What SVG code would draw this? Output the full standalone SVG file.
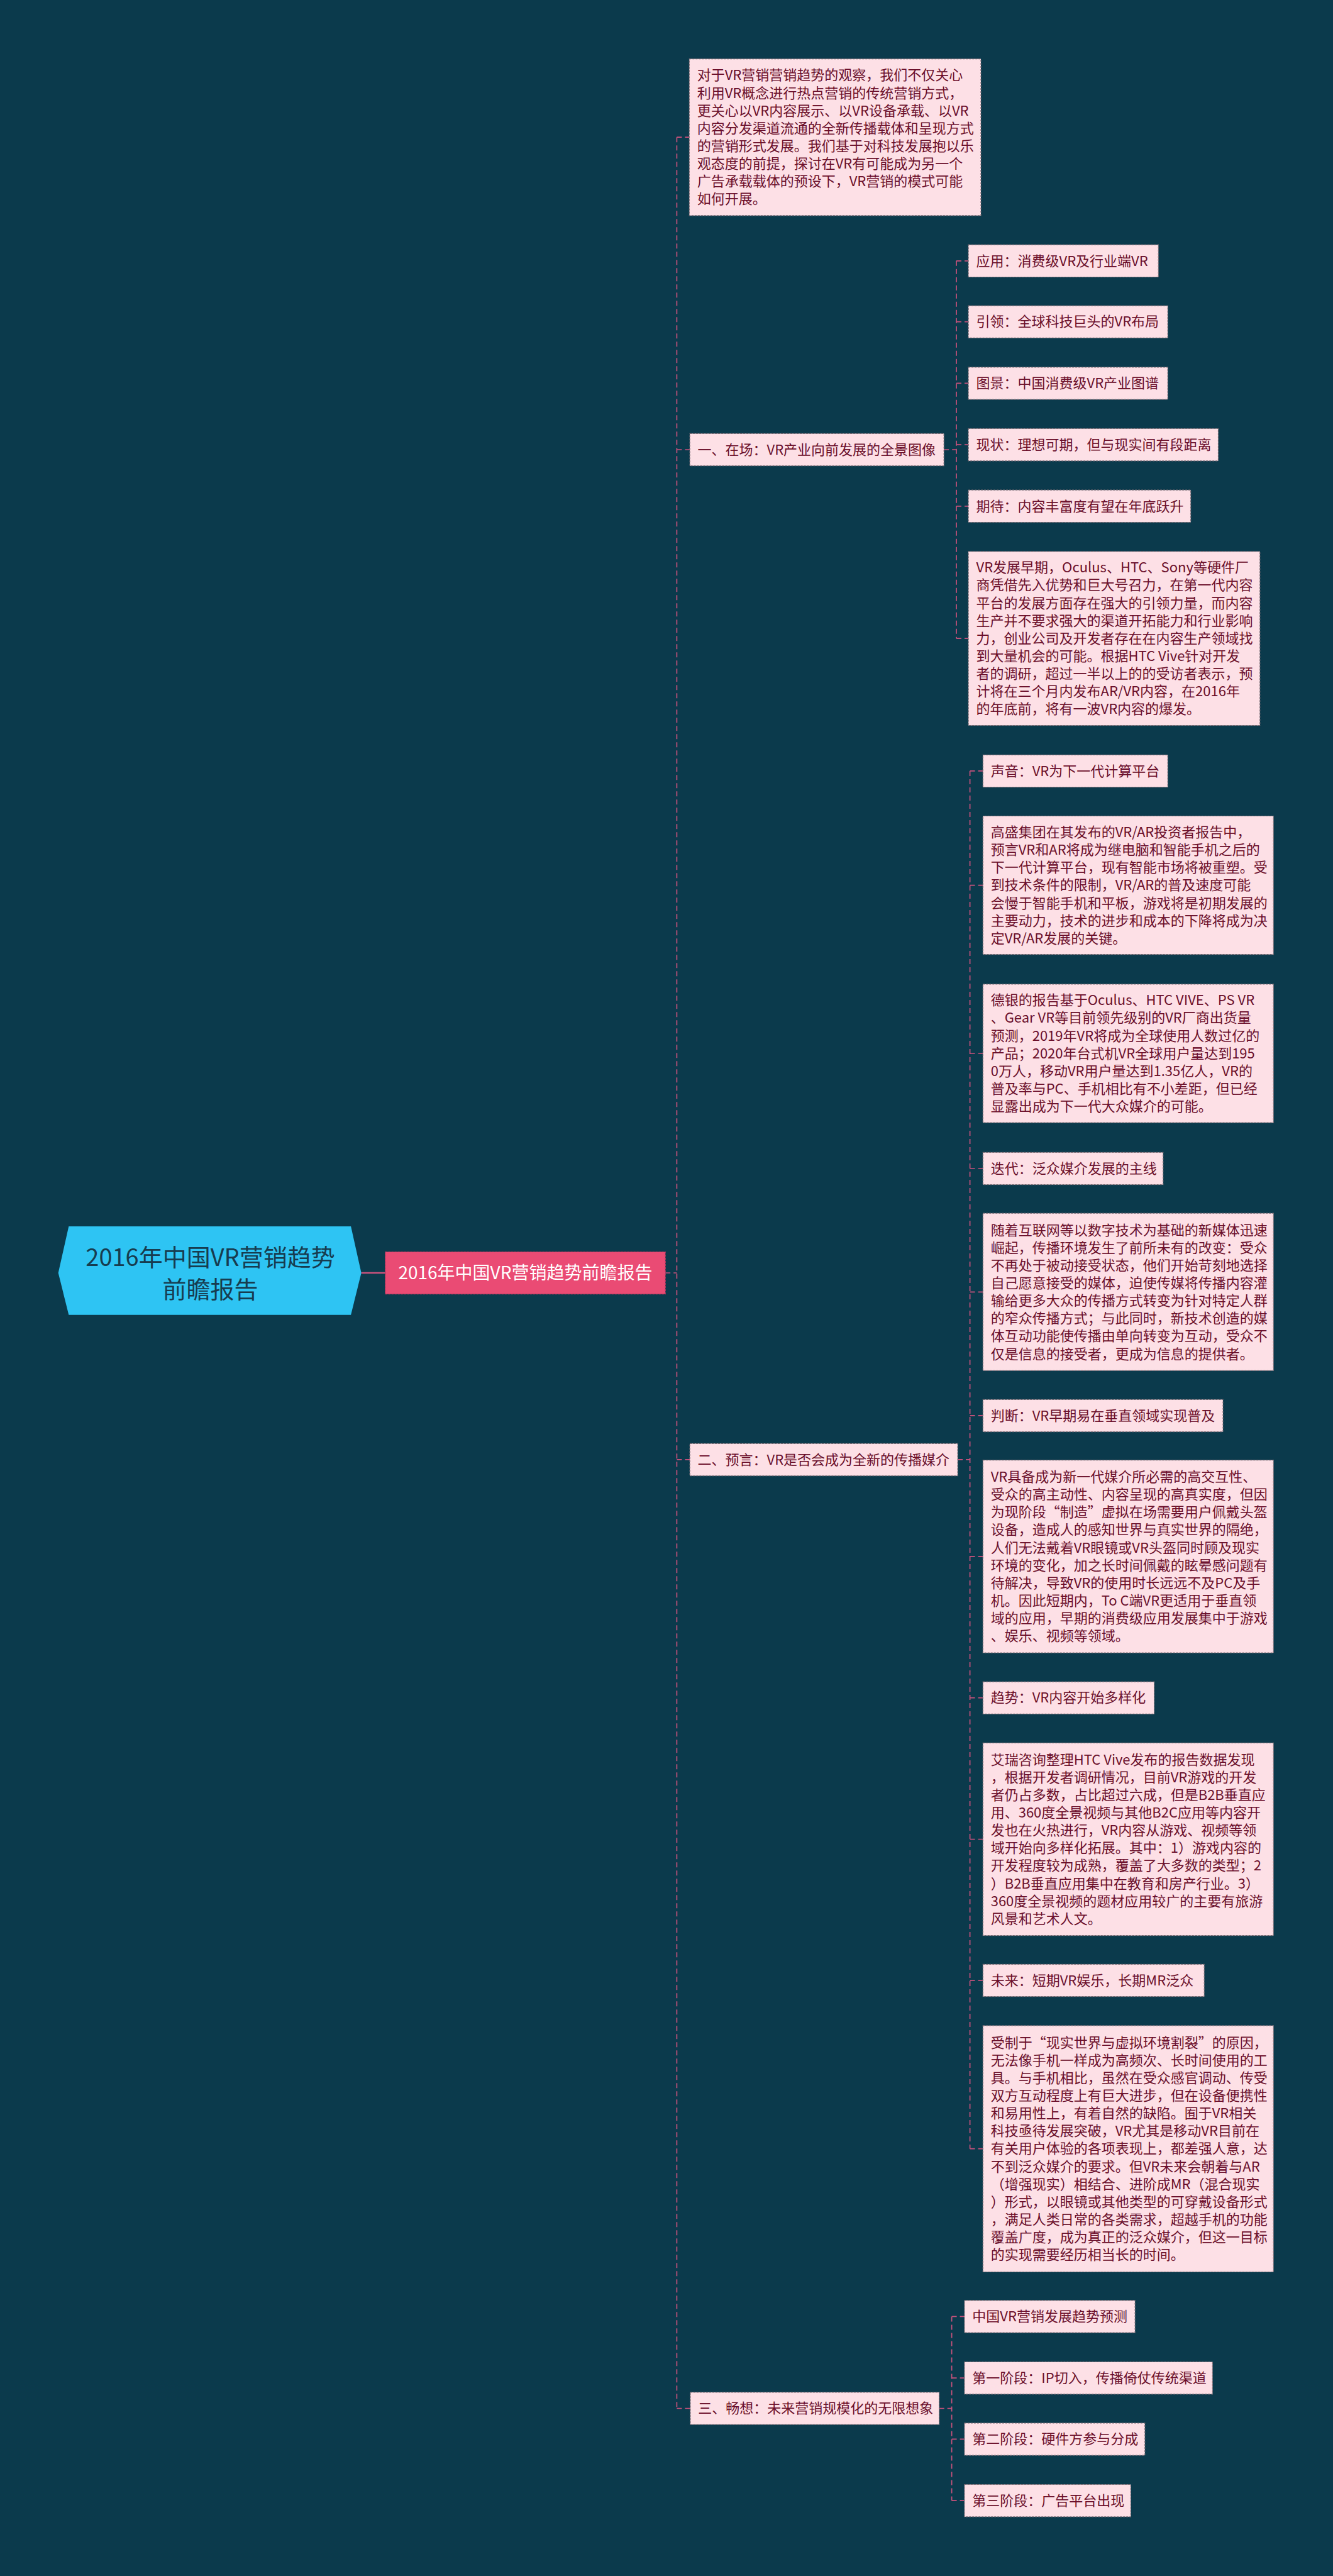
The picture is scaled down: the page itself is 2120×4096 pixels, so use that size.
<svg xmlns="http://www.w3.org/2000/svg" width="2120" height="4096" viewBox="0 0 2120 4096">
<style>
.bg{fill:#0b3a4c}
.box{fill:#fde0e6;stroke:#7a6a72;stroke-width:1.2;stroke-dasharray:3 2}
.t{font-family:"Noto Sans CJK SC","Liberation Sans",sans-serif;font-size:22px;fill:#6b0f2b}
.con{fill:none;stroke:#c9527c;stroke-width:1.7;stroke-dasharray:8 5}
.root{fill:#2ec4f3}
.rt{font-family:"Noto Sans CJK SC","Liberation Sans",sans-serif;font-size:38px;fill:#173c4f;text-anchor:middle}
.cn{fill:#ea4b74;stroke:#b8365c;stroke-width:1.2;stroke-dasharray:3 2}
.ct{font-family:"Noto Sans CJK SC","Liberation Sans",sans-serif;font-size:28px;fill:#ffffff;text-anchor:middle}
</style>
<rect class="bg" x="0" y="0" width="2120" height="4096"/>

<g id="connectors">
<path class="con" d="M574.6 2024 H612.7" style="stroke-dasharray:none;stroke-width:2.5"/>
<path class="con" d="M1058.2 2024 H1076.4"/>
<path class="con" d="M1076.4 218.2 V3829.5"/>
<path class="con" d="M1076.4 218.2 H1096.3"/>
<path class="con" d="M1076.4 715.0 H1097.1"/>
<path class="con" d="M1076.4 2320.9 H1097.1"/>
<path class="con" d="M1076.4 3829.5 H1097.9"/>
<path class="con" d="M1501.2 715.0 H1521.0"/>
<path class="con" d="M1521.0 414.8 V1015.1"/>
<path class="con" d="M1521.0 414.8 H1540.1 M1521.0 511.7 H1540.1 M1521.0 609.4 H1540.1 M1521.0 707.1 H1540.1 M1521.0 804.8 H1540.1 M1521.0 1015.1 H1540.1"/>
<path class="con" d="M1523.1 2320.9 H1542.6"/>
<path class="con" d="M1542.6 1225.9 V3416.7"/>
<path class="con" d="M1542.6 1225.9 H1563.3 M1542.6 1407.6 H1563.3 M1542.6 1675.0 H1563.3 M1542.6 1858.0 H1563.3 M1542.6 2054.3 H1563.3 M1542.6 2250.9 H1563.3 M1542.6 2474.9 H1563.3 M1542.6 2699.7 H1563.3 M1542.6 2924.5 H1563.3 M1542.6 3148.9 H1563.3 M1542.6 3416.7 H1563.3"/>
<path class="con" d="M1493.7 3829.5 H1513.6"/>
<path class="con" d="M1513.6 3683.4 V3976.1"/>
<path class="con" d="M1513.6 3683.4 H1533.9 M1513.6 3781.1 H1533.9 M1513.6 3878.4 H1533.9 M1513.6 3976.1 H1533.9"/>
</g>

<g id="root">
<polygon class="root" points="92.7,2024 109.3,1949.9 558.1,1949.9 574.6,2024 558.1,2090.7 109.3,2090.7"/>
<text class="rt" x="334.5" y="2013">2016年中国VR营销趋势</text>
<text class="rt" x="334.5" y="2064">前瞻报告</text>
</g>

<g id="center">
<rect class="cn" x="612.7" y="1990.5" width="445.5" height="67.1"/>
<text class="ct" x="835.4" y="2034">2016年中国VR营销趋势前瞻报告</text>
</g>

<g id="intro">
<rect class="box" x="1096.3" y="93.6" width="463.7" height="249.2"/>
<text class="t" x="1108.7" y="127.4"><tspan x="1108.7">对于VR营销营销趋势的观察，我们不仅关心</tspan><tspan x="1108.7" dy="28.15">利用VR概念进行热点营销的传统营销方式，</tspan><tspan x="1108.7" dy="28.15">更关心以VR内容展示、以VR设备承载、以VR</tspan><tspan x="1108.7" dy="28.15">内容分发渠道流通的全新传播载体和呈现方式</tspan><tspan x="1108.7" dy="28.15">的营销形式发展。我们基于对科技发展抱以乐</tspan><tspan x="1108.7" dy="28.15">观态度的前提，探讨在VR有可能成为另一个</tspan><tspan x="1108.7" dy="28.15">广告承载载体的预设下，VR营销的模式可能</tspan><tspan x="1108.7" dy="28.15">如何开展。</tspan></text>
</g>

<g id="s1">
<rect class="box" x="1097.1" y="689.4" width="404.1" height="51.3"/>
<text class="t" x="1109.5" y="722.7">一、在场：VR产业向前发展的全景图像</text>
</g>
<g id="s1-1">
<rect class="box" x="1540.1" y="389.2" width="302.2" height="51.3"/>
<text class="t" x="1552.5" y="422.5">应用：消费级VR及行业端VR</text>
</g>
<g id="s1-2">
<rect class="box" x="1540.1" y="486.1" width="317.1" height="51.3"/>
<text class="t" x="1552.5" y="519.4">引领：全球科技巨头的VR布局</text>
</g>
<g id="s1-3">
<rect class="box" x="1540.1" y="583.8" width="317.1" height="51.3"/>
<text class="t" x="1552.5" y="617.1">图景：中国消费级VR产业图谱</text>
</g>
<g id="s1-4">
<rect class="box" x="1540.1" y="681.5" width="397.4" height="51.3"/>
<text class="t" x="1552.5" y="714.8">现状：理想可期，但与现实间有段距离</text>
</g>
<g id="s1-5">
<rect class="box" x="1540.1" y="779.2" width="353.6" height="51.3"/>
<text class="t" x="1552.5" y="812.5">期待：内容丰富度有望在年底跃升</text>
</g>
<g id="s1-6">
<rect class="box" x="1540.1" y="876.9" width="463.7" height="276.6"/>
<text class="t" x="1552.5" y="910.2"><tspan x="1552.5">VR发展早期，Oculus、HTC、Sony等硬件厂</tspan><tspan x="1552.5" dy="28.15">商凭借先入优势和巨大号召力，在第一代内容</tspan><tspan x="1552.5" dy="28.15">平台的发展方面存在强大的引领力量，而内容</tspan><tspan x="1552.5" dy="28.15">生产并不要求强大的渠道开拓能力和行业影响</tspan><tspan x="1552.5" dy="28.15">力，创业公司及开发者存在在内容生产领域找</tspan><tspan x="1552.5" dy="28.15">到大量机会的可能。根据HTC Vive针对开发</tspan><tspan x="1552.5" dy="28.15">者的调研，超过一半以上的的受访者表示，预</tspan><tspan x="1552.5" dy="28.15">计将在三个月内发布AR/VR内容，在2016年</tspan><tspan x="1552.5" dy="28.15">的年底前，将有一波VR内容的爆发。</tspan></text>
</g>

<g id="s2">
<rect class="box" x="1097.1" y="2295.3" width="426.0" height="51.3"/>
<text class="t" x="1109.5" y="2328.6">二、预言：VR是否会成为全新的传播媒介</text>
</g>
<g id="s2-1">
<rect class="box" x="1563.3" y="1200.3" width="293.9" height="51.3"/>
<text class="t" x="1575.7" y="1233.6">声音：VR为下一代计算平台</text>
</g>
<g id="s2-2">
<rect class="box" x="1563.3" y="1297.5" width="462.0" height="220.2"/>
<text class="t" x="1575.7" y="1330.9"><tspan x="1575.7">高盛集团在其发布的VR/AR投资者报告中，</tspan><tspan x="1575.7" dy="28.15">预言VR和AR将成为继电脑和智能手机之后的</tspan><tspan x="1575.7" dy="28.15">下一代计算平台，现有智能市场将被重塑。受</tspan><tspan x="1575.7" dy="28.15">到技术条件的限制，VR/AR的普及速度可能</tspan><tspan x="1575.7" dy="28.15">会慢于智能手机和平板，游戏将是初期发展的</tspan><tspan x="1575.7" dy="28.15">主要动力，技术的进步和成本的下降将成为决</tspan><tspan x="1575.7" dy="28.15">定VR/AR发展的关键。</tspan></text>
</g>
<g id="s2-3">
<rect class="box" x="1563.3" y="1564.9" width="462.0" height="220.2"/>
<text class="t" x="1575.7" y="1598.3"><tspan x="1575.7">德银的报告基于Oculus、HTC VIVE、PS VR</tspan><tspan x="1575.7" dy="28.15">、Gear VR等目前领先级别的VR厂商出货量</tspan><tspan x="1575.7" dy="28.15">预测，2019年VR将成为全球使用人数过亿的</tspan><tspan x="1575.7" dy="28.15">产品；2020年台式机VR全球用户量达到195</tspan><tspan x="1575.7" dy="28.15">0万人，移动VR用户量达到1.35亿人，VR的</tspan><tspan x="1575.7" dy="28.15">普及率与PC、手机相比有不小差距，但已经</tspan><tspan x="1575.7" dy="28.15">显露出成为下一代大众媒介的可能。</tspan></text>
</g>
<g id="s2-4">
<rect class="box" x="1563.3" y="1832.4" width="286.5" height="51.3"/>
<text class="t" x="1575.7" y="1865.7">迭代：泛众媒介发展的主线</text>
</g>
<g id="s2-5">
<rect class="box" x="1563.3" y="1929.2" width="462.0" height="250.1"/>
<text class="t" x="1575.7" y="1963.5"><tspan x="1575.7">随着互联网等以数字技术为基础的新媒体迅速</tspan><tspan x="1575.7" dy="28.15">崛起，传播环境发生了前所未有的改变：受众</tspan><tspan x="1575.7" dy="28.15">不再处于被动接受状态，他们开始苛刻地选择</tspan><tspan x="1575.7" dy="28.15">自己愿意接受的媒体，迫使传媒将传播内容灌</tspan><tspan x="1575.7" dy="28.15">输给更多大众的传播方式转变为针对特定人群</tspan><tspan x="1575.7" dy="28.15">的窄众传播方式；与此同时，新技术创造的媒</tspan><tspan x="1575.7" dy="28.15">体互动功能使传播由单向转变为互动，受众不</tspan><tspan x="1575.7" dy="28.15">仅是信息的接受者，更成为信息的提供者。</tspan></text>
</g>
<g id="s2-6">
<rect class="box" x="1563.3" y="2225.3" width="381.7" height="51.3"/>
<text class="t" x="1575.7" y="2258.6">判断：VR早期易在垂直领域实现普及</text>
</g>
<g id="s2-7">
<rect class="box" x="1563.3" y="2321.7" width="462.0" height="306.4"/>
<text class="t" x="1575.7" y="2355.9"><tspan x="1575.7">VR具备成为新一代媒介所必需的高交互性、</tspan><tspan x="1575.7" dy="28.15">受众的高主动性、内容呈现的高真实度，但因</tspan><tspan x="1575.7" dy="28.15">为现阶段“制造”虚拟在场需要用户佩戴头盔</tspan><tspan x="1575.7" dy="28.15">设备，造成人的感知世界与真实世界的隔绝，</tspan><tspan x="1575.7" dy="28.15">人们无法戴着VR眼镜或VR头盔同时顾及现实</tspan><tspan x="1575.7" dy="28.15">环境的变化，加之长时间佩戴的眩晕感问题有</tspan><tspan x="1575.7" dy="28.15">待解决，导致VR的使用时长远远不及PC及手</tspan><tspan x="1575.7" dy="28.15">机。因此短期内，To C端VR更适用于垂直领</tspan><tspan x="1575.7" dy="28.15">域的应用，早期的消费级应用发展集中于游戏</tspan><tspan x="1575.7" dy="28.15">、娱乐、视频等领域。</tspan></text>
</g>
<g id="s2-8">
<rect class="box" x="1563.3" y="2674.1" width="272.4" height="51.3"/>
<text class="t" x="1575.7" y="2707.4">趋势：VR内容开始多样化</text>
</g>
<g id="s2-9">
<rect class="box" x="1563.3" y="2771.3" width="462.0" height="306.4"/>
<text class="t" x="1575.7" y="2805.5"><tspan x="1575.7">艾瑞咨询整理HTC Vive发布的报告数据发现</tspan><tspan x="1575.7" dy="28.15">，根据开发者调研情况，目前VR游戏的开发</tspan><tspan x="1575.7" dy="28.15">者仍占多数，占比超过六成，但是B2B垂直应</tspan><tspan x="1575.7" dy="28.15">用、360度全景视频与其他B2C应用等内容开</tspan><tspan x="1575.7" dy="28.15">发也在火热进行，VR内容从游戏、视频等领</tspan><tspan x="1575.7" dy="28.15">域开始向多样化拓展。其中：1）游戏内容的</tspan><tspan x="1575.7" dy="28.15">开发程度较为成熟，覆盖了大多数的类型；2</tspan><tspan x="1575.7" dy="28.15">）B2B垂直应用集中在教育和房产行业。3）</tspan><tspan x="1575.7" dy="28.15">360度全景视频的题材应用较广的主要有旅游</tspan><tspan x="1575.7" dy="28.15">风景和艺术人文。</tspan></text>
</g>
<g id="s2-10">
<rect class="box" x="1563.3" y="3123.3" width="351.9" height="51.3"/>
<text class="t" x="1575.7" y="3156.6">未来：短期VR娱乐，长期MR泛众</text>
</g>
<g id="s2-11">
<rect class="box" x="1563.3" y="3220.9" width="462.0" height="391.6"/>
<text class="t" x="1575.7" y="3255.5"><tspan x="1575.7">受制于“现实世界与虚拟环境割裂”的原因，</tspan><tspan x="1575.7" dy="28.15">无法像手机一样成为高频次、长时间使用的工</tspan><tspan x="1575.7" dy="28.15">具。与手机相比，虽然在受众感官调动、传受</tspan><tspan x="1575.7" dy="28.15">双方互动程度上有巨大进步，但在设备便携性</tspan><tspan x="1575.7" dy="28.15">和易用性上，有着自然的缺陷。囿于VR相关</tspan><tspan x="1575.7" dy="28.15">科技亟待发展突破，VR尤其是移动VR目前在</tspan><tspan x="1575.7" dy="28.15">有关用户体验的各项表现上，都差强人意，达</tspan><tspan x="1575.7" dy="28.15">不到泛众媒介的要求。但VR未来会朝着与AR</tspan><tspan x="1575.7" dy="28.15">（增强现实）相结合、进阶成MR（混合现实</tspan><tspan x="1575.7" dy="28.15">）形式，以眼镜或其他类型的可穿戴设备形式</tspan><tspan x="1575.7" dy="28.15">，满足人类日常的各类需求，超越手机的功能</tspan><tspan x="1575.7" dy="28.15">覆盖广度，成为真正的泛众媒介，但这一目标</tspan><tspan x="1575.7" dy="28.15">的实现需要经历相当长的时间。</tspan></text>
</g>

<g id="s3">
<rect class="box" x="1097.9" y="3803.9" width="395.8" height="51.3"/>
<text class="t" x="1110.3" y="3837.2">三、畅想：未来营销规模化的无限想象</text>
</g>
<g id="s3-1">
<rect class="box" x="1533.9" y="3657.8" width="271.2" height="51.3"/>
<text class="t" x="1546.3" y="3691.1">中国VR营销发展趋势预测</text>
</g>
<g id="s3-2">
<rect class="box" x="1533.9" y="3755.5" width="394.5" height="51.3"/>
<text class="t" x="1546.3" y="3788.8">第一阶段：IP切入，传播倚仗传统渠道</text>
</g>
<g id="s3-3">
<rect class="box" x="1533.9" y="3852.8" width="286.9" height="51.3"/>
<text class="t" x="1546.3" y="3886.1">第二阶段：硬件方参与分成</text>
</g>
<g id="s3-4">
<rect class="box" x="1533.9" y="3950.5" width="264.5" height="51.3"/>
<text class="t" x="1546.3" y="3983.8">第三阶段：广告平台出现</text>
</g>
</svg>
